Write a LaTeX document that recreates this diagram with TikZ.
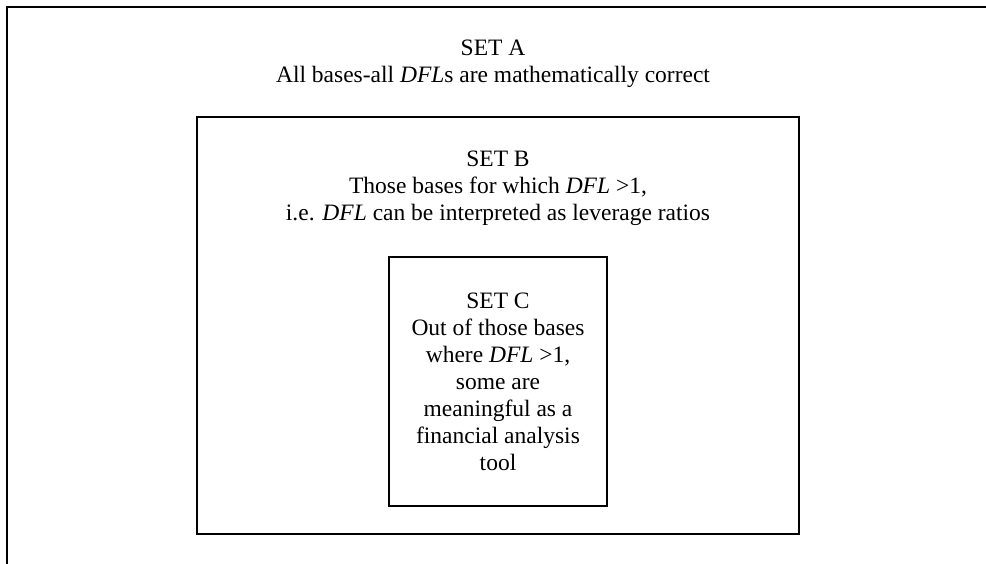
\documentclass[tikz,border=0pt]{standalone}
\usepackage{fontspec}
\setmainfont{Liberation Serif}
\tikzset{
  boxline/.style={line width=2pt, draw=black},
  setbox/.style={boxline, rectangle, inner sep=0pt, fill=none},
  settext/.style={align=center, inner sep=0pt, anchor=north, font=\fontsize{23.5}{27}\selectfont}
}
\begin{document}
\begin{tikzpicture}[x=1pt,y=-1pt]
\useasboundingbox (0,0) rectangle (986,563);
% outer set A (cropped on right and bottom)
\coordinate (Atr) at (987,6.5);
\coordinate (Atl) at (6.5,6.5);
\coordinate (Abl) at (6.5,564);
\draw[boxline] (Atr) -- (Atl) -- (Abl);
% set B
\node[setbox, minimum width=602pt, minimum height=417pt] (B) at (498,325.5) {};
% set C
\node[setbox, minimum width=218pt, minimum height=249pt] (C) at (498,381.5) {};
% texts
\node[settext] (tA) at (493,40) {SET A\\All bases-all \textit{DFL}s are mathematically correct};
\node[settext] (tB) at (498,151) {SET B\\Those bases for which \textit{DFL} >1,\\i.e. \textit{DFL} can be interpreted as leverage ratios};
\node[settext] (tC) at (498,293) {SET C\\Out of those bases\\where \textit{DFL} >1,\\some are\\meaningful as a\\financial analysis\\tool};
\end{tikzpicture}
\end{document}
